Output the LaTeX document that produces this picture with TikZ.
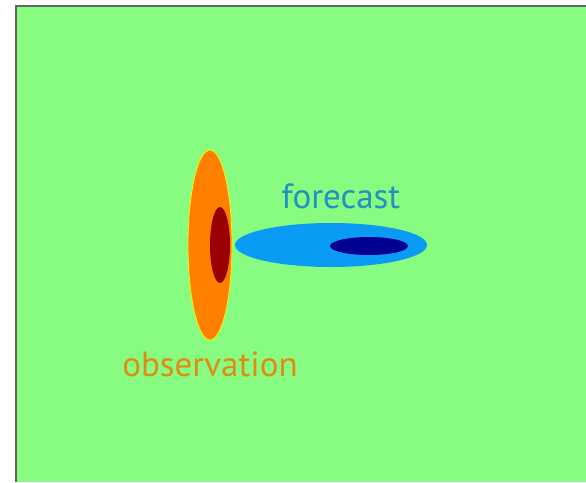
\documentclass[tikz,border=0pt]{standalone}
\usepackage{fontspec}
\setmainfont{PT Sans}
\definecolor{bg}{HTML}{88FC80}
\definecolor{obs}{HTML}{FF8000}
\definecolor{obsin}{HTML}{990000}
\definecolor{fc}{HTML}{0A9CF5}
\definecolor{fcin}{HTML}{000090}
\definecolor{fctext}{HTML}{2290C0}
\definecolor{obstext}{HTML}{E08C14}
\definecolor{edge}{HTML}{5A6A5A}
\begin{document}
\begin{tikzpicture}[x=1pt,y=-1pt,
  lbl/.style={inner sep=0pt,font=\fontsize{35}{35}\selectfont}]
\useasboundingbox (0,0) rectangle (586,482);
\fill[white] (0,0) rectangle (586,482);
\fill[bg] (15,5) rectangle (586,482);
\draw[edge,line width=2pt] (16,482) -- (16,6) -- (586,6);
\fill[obs,draw=yellow,line width=0.8pt] (210,245) ellipse [x radius=22,y radius=95];
\fill[obsin] (220,245) ellipse [x radius=10,y radius=38];
\fill[fc] (331,245) ellipse [x radius=96,y radius=22];
\fill[fcin] (369,246) ellipse [x radius=39,y radius=9];
\node[lbl,text=fctext] (forecast) at (341,196) {forecast};
\node[lbl,text=obstext] (observation) at (210,364) {observation};
\end{tikzpicture}
\end{document}
